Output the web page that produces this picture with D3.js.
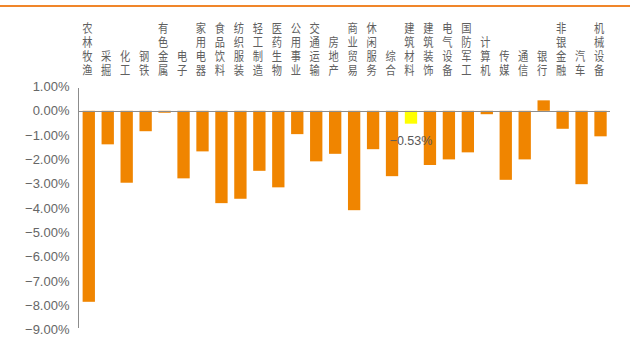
<!DOCTYPE html>
<html><head><meta charset="utf-8">
<script src="https://cdn.jsdelivr.net/npm/d3@7"></script>
<style>body{margin:0;background:#fff}svg{display:block}</style>
</head><body>
<svg id="c" width="630" height="342"></svg>
<script>
const categories = ["农林牧渔","采掘","化工","钢铁","有色金属","电子","家用电器","食品饮料","纺织服装","轻工制造","医药生物","公用事业","交通运输","房地产","商业贸易","休闲服务","综合","建筑材料","建筑装饰","电气设备","国防军工","计算机","传媒","通信","银行","非银金融","汽车","机械设备"];
const values = [-7.86,-1.38,-2.96,-0.84,-0.08,-2.78,-1.67,-3.80,-3.62,-2.47,-3.15,-0.96,-2.08,-1.77,-4.09,-1.58,-2.69,-0.53,-2.23,-2.00,-1.71,-0.14,-2.84,-2.00,0.43,-0.74,-3.02,-1.05];
const highlight = "建筑材料";
const yTicks = [1,0,-1,-2,-3,-4,-5,-6,-7,-8,-9];

const svg = d3.select("#c");
const x = d3.scaleBand().domain(categories).range([79.3, 610]).paddingInner(0.35).paddingOuter(0.175);
const y = d3.scaleLinear().domain([-9, 1]).range([329.5, 86.5]);

// top orange rule
svg.append("rect").attr("x",0).attr("y",5).attr("width",630).attr("height",2).attr("fill","#f0862a");

// y axis
const yAxis = d3.axisLeft(y).tickValues(yTicks).tickSize(0).tickPadding(9)
  .tickFormat(d => d3.format(".2f")(d) + "%");
const ga = svg.append("g").attr("transform","translate(78.5,0)").call(yAxis);
ga.select(".domain").attr("stroke","#8c8c8c").attr("stroke-width",1).attr("d","M0,88V328");
ga.selectAll("text").attr("font-family","Liberation Sans, Arial, sans-serif").attr("font-size",13).attr("fill","#666");

// bars
svg.selectAll("rect.bar").data(values).enter().append("rect").attr("class","bar")
  .attr("x",(d,i)=>x(categories[i]))
  .attr("width",x.bandwidth())
  .attr("y",d=>y(Math.max(0,d)))
  .attr("height",d=>Math.abs(y(d)-y(0)))
  .attr("fill",(d,i)=>categories[i]===highlight?"#ffff00":"#f08500");

// zero line
svg.append("line").attr("x1",78).attr("x2",610).attr("y1",Math.round(y(0))+0.5).attr("y2",Math.round(y(0))+0.5)
  .attr("stroke","#8c8c8c").attr("stroke-width",1);

// data label on highlight
const hi = categories.indexOf(highlight);
svg.append("text").attr("x",x(highlight)+x.bandwidth()/2).attr("y",y(values[hi])+21)
  .attr("text-anchor","middle").attr("font-family","Liberation Sans, Arial, sans-serif").attr("font-size",12.5)
  .attr("fill","#595959").text(d3.format(".2f")(values[hi])+"%");

// vertical category labels (bottom aligned), one glyph per text
const lab = svg.append("g").attr("font-family","Noto Sans CJK SC, sans-serif").attr("font-size",12.5).attr("fill","#606060");
categories.forEach(c => {
  const chars = Array.from(c);
  const cx = x(c)+x.bandwidth()/2-1.5;
  chars.forEach((ch,j) => {
    const yy = 77 - (chars.length-1-j)*14.3;
    lab.append("text")
      .attr("transform", `translate(${cx},${yy}) scale(0.82,1)`)
      .attr("x",0).attr("y",0)
      .style("writing-mode","vertical-rl")
      .attr("text-anchor","end")
      .text(ch);
  });
});
</script>
</body></html>
